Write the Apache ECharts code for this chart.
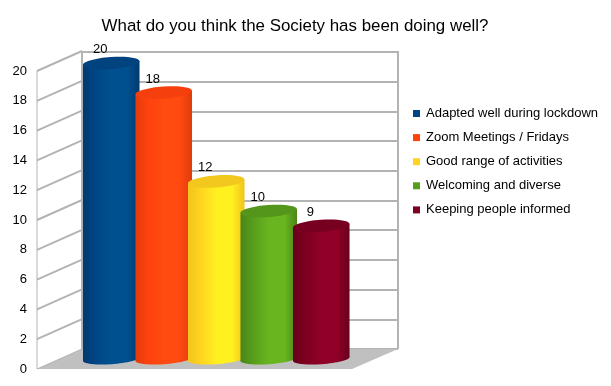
<!DOCTYPE html>
<html>
<head>
<meta charset="utf-8">
<style>html,body{margin:0;padding:0;background:#fff}#c{width:611px;height:386px}</style>
<script src="https://cdn.jsdelivr.net/npm/echarts@6/dist/echarts.min.js"></script>
</head>
<body>
<div id="c"></div>
<script>
const titleText = 'What do you think the Society has been doing well?';
const categories = ['Adapted well during lockdown','Zoom Meetings / Fridays','Good range of activities','Welcoming and diverse','Keeping people informed'];
const values = [20,18,12,10,9];
const tickValues = [0,2,4,6,8,10,12,14,16,18,20];
const baseColors = ['#004586','#ff420e','#ffd320','#579d1c','#7e0021'];
const edgeColors = ['#003a70','#e03c0c','#f0c41c','#4a8618','#68001b'];
const litColors = ['#00508f','#ff4a10','#fff020','#68b520','#900028'];
const topColors = ['#00437f','#f5400e','#f2c81e','#53961b','#770020'];

const font = '"Liberation Sans", Arial, sans-serif';
const gridColor = '#b3b3b3';
const DX = 45, DY = -20;
const TILT = 0.07;

function vAxis(i, showLabel, showSplit) {
  return {
    type:'value', gridIndex:i, min:0, max:20, interval:2,
    axisLine:{show:false}, axisTick:{show:false},
    axisLabel:{show:showLabel, fontFamily:font, fontSize:13, color:'#000', margin:10, padding:[2,0,0,0]},
    splitLine:{show:showSplit, lineStyle:{color:gridColor, width:2}}
  };
}
function xHidden(i, type) {
  const a = {type:type, gridIndex:i, show:false};
  if (type === 'category') a.data = ['a','b','c','d','e'];
  else { a.min = 0; a.max = 1; }
  return a;
}

function cylinder(idx) {
  return function (params, api) {
    const base = api.coord([idx, 0]);
    const top = api.coord([idx, api.value(1)]);
    const band = api.size([1, 0])[0];
    const rx = band * 0.54;
    const ryB = 5.2, ryT = 6;
    const c = Math.cos(TILT), s = Math.sin(TILT);
    const cx = base[0];
    const grad = {type:'linear', x:0, y:0, x2:1, y2:0, colorStops:[
      {offset:0, color:edgeColors[idx]},
      {offset:0.22, color:baseColors[idx]},
      {offset:0.5, color:litColors[idx]},
      {offset:0.78, color:litColors[idx]},
      {offset:1, color:edgeColors[idx]}
    ]};
    return {type:'group', children:[
      {type:'ellipse', shape:{cx:cx, cy:base[1], rx:rx, ry:ryB}, rotation:TILT, originX:cx, originY:base[1], style:{fill:grad}},
      {type:'polygon', shape:{points:[
        [cx-rx*c, top[1]+rx*s],[cx+rx*c, top[1]-rx*s],
        [cx+rx*c, base[1]-rx*s],[cx-rx*c, base[1]+rx*s]
      ]}, style:{fill:grad}},
      {type:'ellipse', shape:{cx:cx, cy:top[1], rx:rx, ry:ryT}, rotation:TILT, originX:cx, originY:top[1], style:{fill:topColors[idx]}},
      {type:'text', x:cx-11, y:top[1]-13.5, style:{text:String(api.value(1)), fill:'#000', font:'13px '+font, textAlign:'center', textVerticalAlign:'middle'}}
    ]};
  };
}

const barSeries = categories.map((name, idx) => ({
  type:'custom', name:name, coordinateSystem:'cartesian2d',
  xAxisIndex:2, yAxisIndex:2, z:5+idx,
  itemStyle:{color:baseColors[idx]},
  encode:{x:0,y:1},
  data:[[idx, values[idx]]],
  renderItem:cylinder(idx)
}));

const option = {
  animation:false,
  backgroundColor:'#fff',
  title:{text:titleText, left:290, top:13, textAlign:'center',
    textStyle:{fontFamily:font, fontSize:16.9, fontWeight:'normal', color:'#000'}},
  legend:{orient:'vertical', left:413, top:107, padding:0, itemWidth:7, itemHeight:7, itemGap:11.1,
    icon:'rect', textStyle:{fontFamily:font, fontSize:13, color:'#000', padding:[0,0,0,1]},
    data:categories},
  grid:[
    {left:82, top:52, width:316, height:297},
    {left:37, top:71, width:315, height:298},
    {left:85, top:63, width:262.5, height:296}
  ],
  xAxis:[xHidden(0,'value'), xHidden(1,'value'), xHidden(2,'category')],
  yAxis:[vAxis(0,false,true), vAxis(1,true,false), vAxis(2,false,false)],
  series:[
    {
      type:'custom', coordinateSystem:'cartesian2d', xAxisIndex:1, yAxisIndex:1, z:1, silent:true,
      data:[[0]],
      renderItem:function (p, api) {
        const a = api.coord([0,0]), b = api.coord([1,0]);
        const t = api.coord([0,20]);
        return {type:'group', children:[
          {type:'polygon', shape:{points:[a,b,[b[0]+DX+1,b[1]+DY],[a[0]+DX,a[1]+DY]]}, style:{fill:'#c0c0c0'}},
          {type:'line', shape:{x1:a[0],y1:a[1],x2:t[0],y2:t[1]}, style:{stroke:gridColor,lineWidth:1}},
          {type:'line', shape:{x1:a[0]+DX,y1:a[1]+DY,x2:t[0]+DX,y2:t[1]+DY}, style:{stroke:gridColor,lineWidth:2}},
          {type:'line', shape:{x1:b[0]+DX+1,y1:b[1]+DY,x2:b[0]+DX+1,y2:t[1]+DY}, style:{stroke:gridColor,lineWidth:2}}
        ]};
      }
    },
    {
      type:'custom', coordinateSystem:'cartesian2d', xAxisIndex:1, yAxisIndex:1, z:2, silent:true,
      encode:{y:0},
      data:tickValues.map(v => [v]),
      renderItem:function (p, api) {
        const a = api.coord([0, api.value(0)]);
        const w = api.value(0) === 0 ? 1 : 2;
        return {type:'line', shape:{x1:a[0],y1:a[1],x2:a[0]+DX,y2:a[1]+DY}, style:{stroke:gridColor,lineWidth:w}};
      }
    }
  ].concat(barSeries)
};
echarts.init(document.getElementById('c')).setOption(option);
</script>
</body>
</html>
